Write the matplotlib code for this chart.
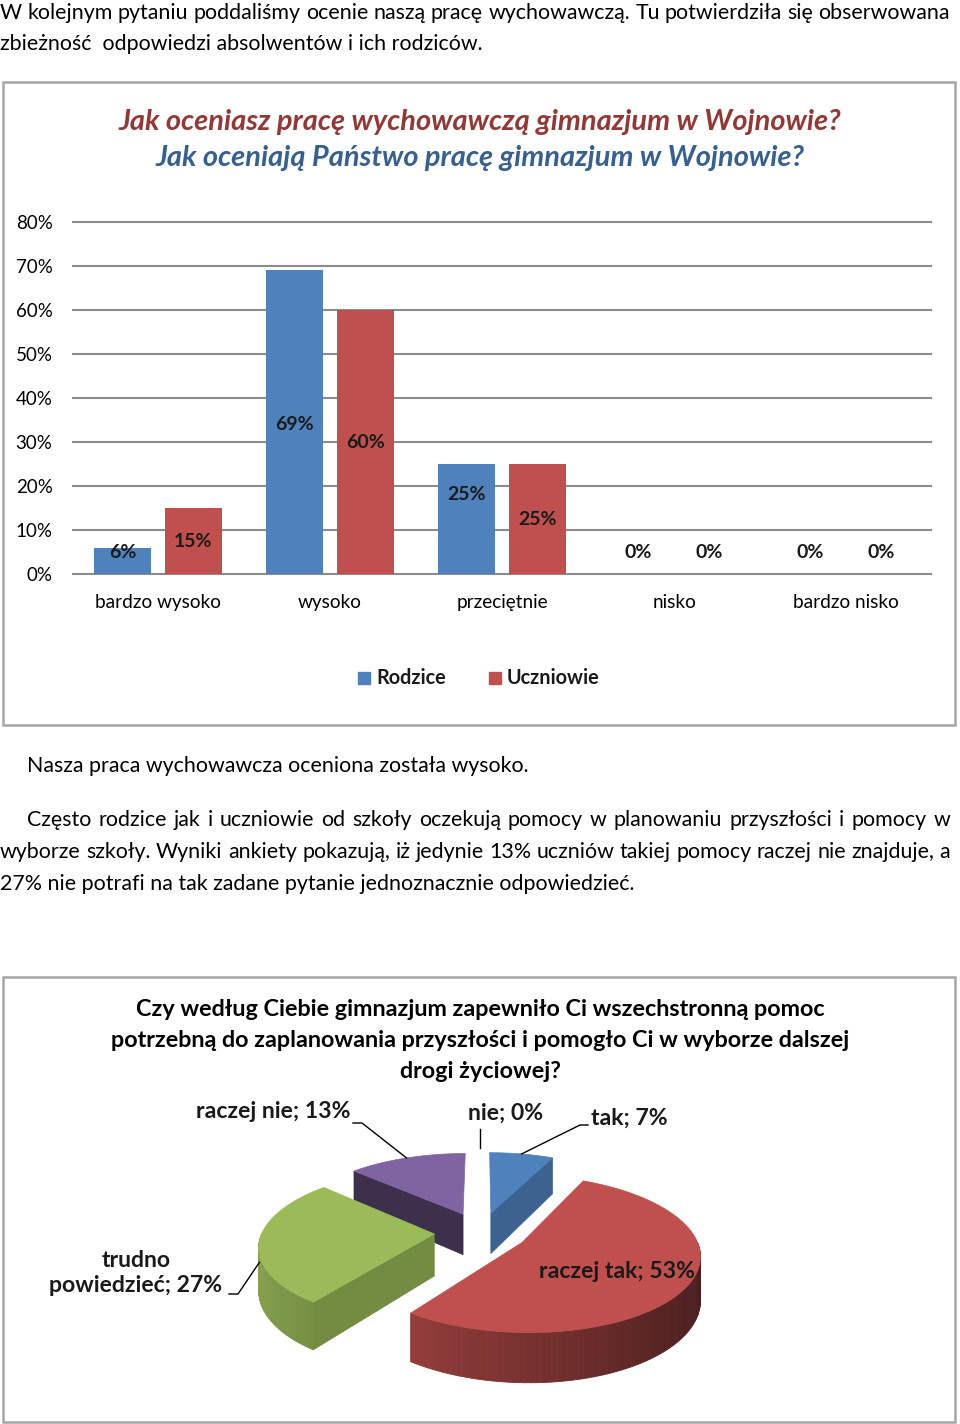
import numpy as np
import matplotlib
matplotlib.use("Agg")
import matplotlib.pyplot as plt
from matplotlib.patches import Polygon, Rectangle
from matplotlib.colors import to_rgb

plt.rcParams['font.family'] = ['Lato', 'DejaVu Sans']

# --- bar chart data
categories = ['bardzo wysoko', 'wysoko', 'przeciętnie', 'nisko', 'bardzo nisko']
rodzice = [6, 69, 25, 0, 0]
uczniowie = [15, 60, 25, 0, 0]
y_ticks = [0, 10, 20, 30, 40, 50, 60, 70, 80]
series_names = ['Rodzice', 'Uczniowie']

# --- pie chart data (clockwise from 12 o'clock)
pie_names = ['tak', 'raczej tak', 'trudno\npowiedzieć', 'raczej nie', 'nie']
pie_values = [7, 53, 27, 13, 0]

BLUE, RED, GREEN, PURPLE = '#4F81BD', '#C0504D', '#9BBB59', '#8064A2'
pie_colors = [BLUE, RED, GREEN, PURPLE, '#4BACC6']

# label heights inside bars (percent units), as placed in the original
rodzice_lab_y = [4.8, 34, 18, 4.8, 4.8]
uczniowie_lab_y = [7.3, 29.8, 12.3, 4.8, 4.8]

fig = plt.figure(figsize=(9.6, 14.24), dpi=100)
page = fig.add_axes([0, 0, 1, 1])
page.set_xlim(0, 960)
page.set_ylim(1424, 0)
page.axis('off')
renderer = fig.canvas.get_renderer()


def justify(x0, x1, y, line, size, **kw):
    words = line.split()
    ts = [page.text(0, y, w, fontsize=size, va='baseline', **kw) for w in words]
    widths = [t.get_window_extent(renderer).width for t in ts]
    gap = (x1 - x0 - sum(widths)) / (len(words) - 1)
    x = x0
    for t, w in zip(ts, widths):
        t.set_x(x)
        x += w + gap


TXT = 15.4
justify(0, 950, 19, 'W kolejnym pytaniu poddaliśmy ocenie naszą pracę wychowawczą. Tu potwierdziła się obserwowana', TXT)
page.text(0, 50, 'zbieżność  odpowiedzi absolwentów i ich rodziców.', fontsize=TXT, va='baseline')

page.text(27, 772, 'Nasza praca wychowawcza oceniona została wysoko.', fontsize=TXT, va='baseline')
justify(27, 950, 826, 'Często rodzice jak i uczniowie od szkoły oczekują pomocy w planowaniu przyszłości i pomocy w', TXT)
justify(0, 950, 858, 'wyborze szkoły. Wyniki ankiety pokazują, iż jedynie 13% uczniów takiej pomocy raczej nie znajduje, a', TXT)
page.text(0, 890, '27% nie potrafi na tak zadane pytanie jednoznacznie odpowiedzieć.', fontsize=TXT, va='baseline')

# frames
for (y0, y1) in [(82, 725), (977, 1422)]:
    page.add_patch(Rectangle((3, y0), 952, y1 - y0, fill=False, ec='#a5a5a5', lw=1.8))

# ---------------- bar chart
page.text(480, 130, 'Jak oceniasz pracę wychowawczą gimnazjum w Wojnowie?', ha='center', va='baseline',
          fontsize=20.9, color='#953735', weight='bold', style='italic')
page.text(480, 166, 'Jak oceniają Państwo pracę gimnazjum w Wojnowie?', ha='center', va='baseline',
          fontsize=20.9, color='#376092', weight='bold', style='italic')

ppu = 4.4  # pixels per percent
ax = fig.add_axes([72 / 960, 1 - (574 + 0.5 * ppu) / 1424, 860 / 960, 81.5 * ppu / 1424])
ax.set_xlim(-0.5, 4.5)
ax.set_ylim(-0.5, 81)
x = np.arange(len(categories))
w = 0.33
off = 0.206
ax.bar(x - off, rodzice, w, color=BLUE, zorder=3)
ax.bar(x + off, uczniowie, w, color=RED, zorder=3)
for i in range(len(categories)):
    ax.text(x[i] - off, rodzice_lab_y[i], f'{rodzice[i]}%', ha='center', va='center',
            fontsize=14, weight='bold', color='#1a1a1a', zorder=4)
    ax.text(x[i] + off, uczniowie_lab_y[i], f'{uczniowie[i]}%', ha='center', va='center',
            fontsize=14, weight='bold', color='#1a1a1a', zorder=4)
ax.set_yticks(y_ticks)
ax.set_yticklabels([f'{t}%' for t in y_ticks], fontsize=13.5)
ax.yaxis.grid(True, color='#8c8c8c', lw=1.5, zorder=0)
ax.set_xticks(x)
ax.set_xticklabels(categories, fontsize=13.7)
ax.tick_params(length=0)
ax.tick_params(axis='y', pad=14)
ax.tick_params(axis='x', pad=13)
for s in ax.spines.values():
    s.set_visible(False)
ax.patch.set_alpha(0)

# legend
leg_x = [358, 489]
for lx, name, col in zip(leg_x, series_names, [BLUE, RED]):
    page.add_patch(Rectangle((lx, 672), 12, 12, color=col))
    page.text(lx + 18, 678, name, va='center', fontsize=14.3, weight='bold', color='#1a1a1a')

# ---------------- 3D pie
TT = 16.8
page.text(480, 1016, 'Czy według Ciebie gimnazjum zapewniło Ci wszechstronną pomoc', ha='center',
          va='baseline', fontsize=TT, weight='bold')
page.text(480, 1047, 'potrzebną do zaplanowania przyszłości i pomogło Ci w wyborze dalszej', ha='center',
          va='baseline', fontsize=TT, weight='bold')
page.text(480, 1078, 'drogi życiowej?', ha='center', va='baseline', fontsize=TT, weight='bold')

R, K, D, DEPTH = 172, 74, 7.0, 42
CX, CY = 481, 1232
EXPLODE = 0.272


def proj(u, v, h=0.0):
    s = D / (D - v)
    return CX + u * R * s, CY + (v * K + h) * s


def shade(c, f):
    return tuple(min(1, ch * f) for ch in to_rgb(c))


total = sum(pie_values)
bounds = np.concatenate([[0], np.cumsum(pie_values)]) / total * 360
slices = []
for i, val in enumerate(pie_values):
    t1, t2 = bounds[i], bounds[i + 1]
    m = np.radians((t1 + t2) / 2)
    slices.append((i, t1, t2, m))

anchor = {}
for i, t1, t2, m in sorted(slices, key=lambda s: -np.cos(s[3])):
    eu, ev = EXPLODE * np.sin(m), -EXPLODE * np.cos(m)
    anchor[i] = (eu, ev, m)
    if pie_values[i] == 0:
        continue
    col = pie_colors[i]
    th = np.radians(np.linspace(t1, t2, max(4, int((t2 - t1) / 1.5))))
    rim = lambda t, h=0: proj(eu + np.sin(t), ev - np.cos(t), h)
    apex_t, apex_b = proj(eu, ev), proj(eu, ev, DEPTH)
    # radial walls facing the viewer
    for t, vis, nrm in [(np.radians(t1), np.sin(np.radians(t1)) < -1e-6, np.radians(t1) - np.pi / 2),
                        (np.radians(t2), np.sin(np.radians(t2)) > 1e-6, np.radians(t2) + np.pi / 2)]:
        if vis:
            f = 0.6 + 0.18 * np.sin(nrm)
            page.add_patch(Polygon([apex_t, rim(t), rim(t, DEPTH), apex_b], closed=True,
                                   fc=shade(col, f), ec=shade(col, f), lw=0.5))
    # outer wall, front half only
    for a, b in zip(th[:-1], th[1:]):
        if np.cos(a) < 0.02 and np.cos(b) < 0.02:
            f = 0.62 - 0.24 * np.sin((a + b) / 2)
            page.add_patch(Polygon([rim(a), rim(b), rim(b, DEPTH), rim(a, DEPTH)], closed=True,
                                   fc=shade(col, f), ec=shade(col, f), lw=0.6))
    top = [apex_t] + [rim(t) for t in th]
    page.add_patch(Polygon(top, closed=True, fc=col, ec=col, lw=0.5))


def leader_end(i, h=0.0):
    eu, ev, m = anchor[i]
    return proj(eu + np.sin(m), ev - np.cos(m), h)


LAB = 16.6
lk = dict(fontsize=LAB, weight='bold', color='#1a1a1a')
# tak
page.text(591, 1118, f'{pie_names[0]}; {pie_values[0]}%', ha='left', va='center', **lk)
ex, ey = leader_end(0)
page.plot([588, 580, ex], [1125, 1125, ey], color='black', lw=1)
# raczej tak (inside)
page.text(539, 1272, f'{pie_names[1]}; {pie_values[1]}%', ha='left', va='center', **lk)
# trudno powiedzieć
page.text(136, 1273, f'{pie_names[2]}; {pie_values[2]}%', ha='center', va='center',
          multialignment='center', linespacing=1.25, **lk)
ex, ey = leader_end(2, DEPTH * 0.5)
page.plot([229, 238, ex], [1294, 1294, ey], color='black', lw=1)
# raczej nie
page.text(350, 1112, f'{pie_names[3]}; {pie_values[3]}%', ha='right', va='center', **lk)
ex, ey = leader_end(3)
page.plot([353, 362, ex], [1123, 1123, ey], color='black', lw=1)
# nie
page.text(468, 1113, f'{pie_names[4]}; {pie_values[4]}%', ha='left', va='center', **lk)
page.plot([480, 480], [1129, 1148], color='black', lw=1)

fig.savefig('out.png', dpi=100)
